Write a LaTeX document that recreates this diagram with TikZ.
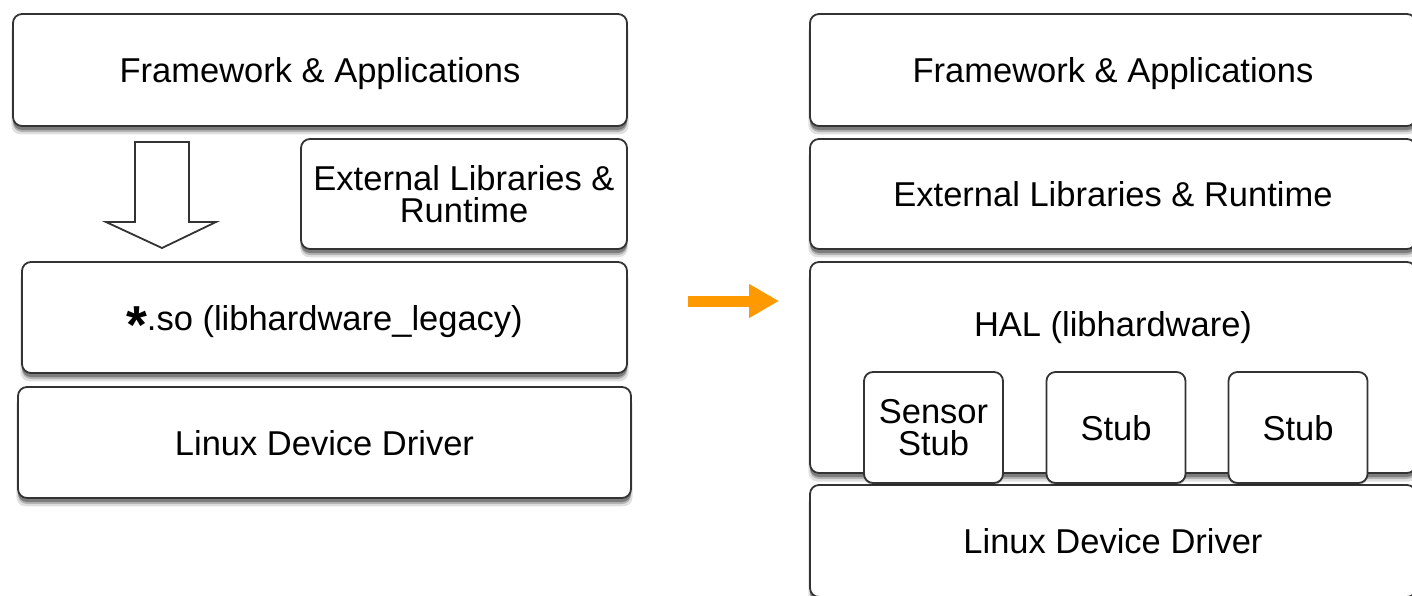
\documentclass[tikz,border=0pt]{standalone}
\usepackage{fontspec}
\setmainfont{Liberation Sans}
\usetikzlibrary{shadows,arrows.meta}
\definecolor{edge}{HTML}{333333}
\definecolor{arroworange}{HTML}{FF9900}
\newcommand{\heavyast}{\raisebox{-0.38em}{\scalebox{1.55}{\textbf{*}}}}
\tikzset{
  softshadow/.style={
    general shadow={shadow xshift=0pt, shadow yshift=-8pt, shadow scale=1.005, opacity=0.12, fill=black},
    general shadow={shadow xshift=0pt, shadow yshift=-6pt, opacity=0.2, fill=black},
    general shadow={shadow xshift=0pt, shadow yshift=-4pt, opacity=0.3, fill=black}},
  layerbox/.style={draw=edge, line width=1.8pt, rounded corners=9pt, fill=white,
    softshadow, align=center, inner sep=0pt, font=\fontsize{34.5}{32}\selectfont},
  oneline/.style={text depth=0pt},
  stubbox/.style={draw=edge, line width=1.8pt, rounded corners=9pt, fill=white,
    drop shadow={shadow xshift=0pt, shadow yshift=-2pt, opacity=0.2, fill=black},
    align=center, inner sep=0pt, font=\fontsize{34.5}{32}\selectfont},
  txt/.style={inner sep=0pt, align=center, font=\fontsize{34.5}{32}\selectfont},
  hollowarrow/.style={draw=edge, line width=1.8pt, fill=white, line join=miter},
  orangearrow/.style={draw=arroworange, line width=11pt, -{Triangle[length=30pt,width=32pt]}}
}
\begin{document}
\begin{tikzpicture}[x=1pt,y=-1pt]
\useasboundingbox (0,0) rectangle (1412,595);
\clip (0,0) rectangle (1412,595);
% left column
\node[layerbox, oneline, minimum width=614pt, minimum height=112pt] (fa1) at (320,70) {Framework \& Applications};
\node[layerbox, minimum width=326pt, minimum height=110pt] (ext1) at (464,194) {External Libraries \&\\Runtime};
\node[layerbox, oneline, minimum width=605pt, minimum height=111pt] (so) at (324.5,317.5) {\heavyast.so (libhardware\_legacy)};
\node[layerbox, oneline, minimum width=613pt, minimum height=111pt] (ldd1) at (324.5,442.5) {Linux Device Driver};
\draw[hollowarrow] (135,142) -- (189,142) -- (189,222) -- (216,222) -- (162,248) -- (106,222) -- (135,222) -- cycle;
% orange arrow
\coordinate (oa) at (688,301);
\coordinate (ob) at (779,301);
\draw[orangearrow] (oa) -- (ob);
% right column
\node[layerbox, oneline, minimum width=606pt, minimum height=112pt] (fa2) at (1113,70) {Framework \& Applications};
\node[layerbox, oneline, minimum width=606pt, minimum height=110pt] (ext2) at (1113,194) {External Libraries \& Runtime};
\node[layerbox, minimum width=606pt, minimum height=211pt] (hal) at (1113,367.5) {};
\node[txt, oneline] (halt) at (1113,324) {HAL (libhardware)};
\node[layerbox, oneline, minimum width=606pt, minimum height=112pt] (ldd2) at (1113,541) {Linux Device Driver};
\node[stubbox, minimum width=139pt, minimum height=111pt] (s1) at (933.5,427.5) {Sensor\\Stub};
\node[stubbox, oneline, minimum width=139pt, minimum height=111pt] (s2) at (1116,427.5) {Stub};
\node[stubbox, oneline, minimum width=139pt, minimum height=111pt] (s3) at (1298,427.5) {Stub};
\end{tikzpicture}
\end{document}
